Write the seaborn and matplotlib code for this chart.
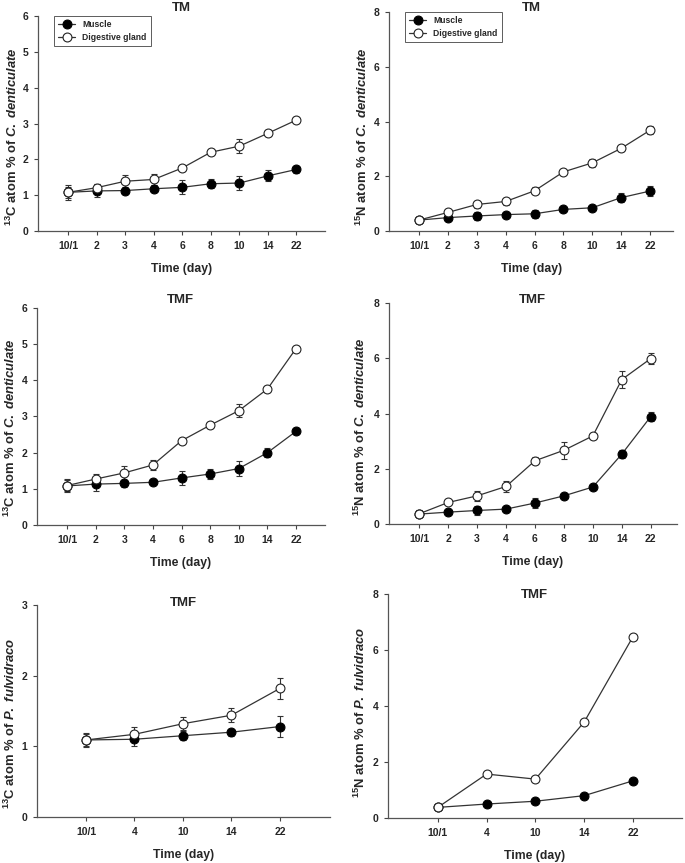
import numpy as np
import pandas as pd
import matplotlib
matplotlib.use("Agg")
import matplotlib.pyplot as plt
import seaborn as sns

# ---------------- data ----------------
days_c = ["10/1", "2", "3", "4", "6", "8", "10", "14", "22"]
days_p = ["10/1", "4", "10", "14", "22"]

# C. denticulate, TM, 13C
tm_c_mus = [1.08, 1.12, 1.13, 1.18, 1.22, 1.32, 1.34, 1.54, 1.72]
tm_c_mus_err = [0.15, 0.18, 0.10, 0.10, 0.20, 0.13, 0.20, 0.15, 0.10]
tm_c_dg = [1.08, 1.21, 1.39, 1.44, 1.76, 2.20, 2.37, 2.73, 3.10]
tm_c_dg_err = [0.20, 0.10, 0.18, 0.15, 0.08, 0.08, 0.20, 0.08, 0.08]

# C. denticulate, TM, 15N
tm_n_mus = [0.40, 0.49, 0.55, 0.60, 0.63, 0.79, 0.85, 1.22, 1.46]
tm_n_mus_err = [0.10, 0.10, 0.15, 0.10, 0.15, 0.08, 0.08, 0.17, 0.17]
tm_n_dg = [0.40, 0.68, 0.97, 1.08, 1.47, 2.16, 2.49, 3.02, 3.68]
tm_n_dg_err = [0.10, 0.08, 0.12, 0.12, 0.13, 0.08, 0.15, 0.08, 0.15]

# C. denticulate, TMF, 13C
tmf_c_mus = [1.08, 1.13, 1.15, 1.18, 1.30, 1.41, 1.56, 2.00, 2.59]
tmf_c_mus_err = [0.15, 0.18, 0.10, 0.08, 0.20, 0.15, 0.20, 0.13, 0.08]
tmf_c_dg = [1.09, 1.27, 1.44, 1.66, 2.33, 2.76, 3.16, 3.76, 4.88]
tmf_c_dg_err = [0.18, 0.15, 0.20, 0.13, 0.08, 0.08, 0.18, 0.08, 0.08]

# C. denticulate, TMF, 15N
tmf_n_mus = [0.36, 0.43, 0.49, 0.54, 0.76, 1.02, 1.34, 2.53, 3.89]
tmf_n_mus_err = [0.10, 0.08, 0.15, 0.08, 0.17, 0.08, 0.08, 0.15, 0.15]
tmf_n_dg = [0.37, 0.78, 1.02, 1.36, 2.29, 2.67, 3.19, 5.23, 5.99]
tmf_n_dg_err = [0.12, 0.10, 0.17, 0.20, 0.12, 0.30, 0.10, 0.30, 0.20]

# P. fulvidraco, TMF, 13C
pf_c_mus = [1.09, 1.10, 1.15, 1.20, 1.28]
pf_c_mus_err = [0.08, 0.09, 0.06, 0.05, 0.15]
pf_c_dg = [1.09, 1.17, 1.32, 1.44, 1.82]
pf_c_dg_err = [0.10, 0.10, 0.09, 0.10, 0.15]

# P. fulvidraco, TMF, 15N
pf_n_mus = [0.38, 0.50, 0.60, 0.80, 1.33]
pf_n_mus_err = [0.0, 0.0, 0.0, 0.0, 0.0]
pf_n_dg = [0.38, 1.57, 1.39, 3.43, 6.48]
pf_n_dg_err = [0.0, 0.0, 0.0, 0.0, 0.0]

# ---------------- style ----------------
sns.set_style("ticks")
plt.rcParams["font.family"] = ["Liberation Sans", "DejaVu Sans"]
plt.rcParams["font.weight"] = "bold"
plt.rcParams["mathtext.fontset"] = "custom"
plt.rcParams["mathtext.rm"] = "Liberation Sans:bold"
plt.rcParams["mathtext.it"] = "Liberation Sans:bold:italic"
plt.rcParams["mathtext.bf"] = "Liberation Sans:bold"

LINE = "#333333"
fig = plt.figure(figsize=(6.85, 8.63), dpi=100)

panels = [
    # rect, cats, mus, mus_err, dg, dg_err, ymax, yticks, title, title_y, ylabel, legend, xlim, ylabel coords
    ([0.0555, 0.7323, 0.419, 0.249], days_c, tm_c_mus, tm_c_mus_err, tm_c_dg, tm_c_dg_err,
     6, [0, 1, 2, 3, 4, 5, 6], "TM", 1.037,
     r"$^{\mathrm{13}}$C atom % of $\mathit{C.\ denticulate}$", True, (-1.05, 9.0), (-0.063, 0.437)),
    ([0.568, 0.7323, 0.4146, 0.2537], days_c, tm_n_mus, tm_n_mus_err, tm_n_dg, tm_n_dg_err,
     8, [0, 2, 4, 6, 8], "TM", 1.018,
     r"$^{\mathrm{15}}$N atom % of $\mathit{C.\ denticulate}$", True, (-1.04, 8.8), (-0.067, 0.43)),
    ([0.054, 0.3917, 0.42, 0.2514], days_c, tmf_c_mus, tmf_c_mus_err, tmf_c_dg, tmf_c_dg_err,
     6, [0, 1, 2, 3, 4, 5, 6], "TMF", 1.037,
     r"$^{\mathrm{13}}$C atom % of $\mathit{C.\ denticulate}$", False, (-1.05, 9.0), (-0.066, 0.447)),
    ([0.568, 0.3928, 0.42, 0.256], days_c, tmf_n_mus, tmf_n_mus_err, tmf_n_dg, tmf_n_dg_err,
     8, [0, 2, 4, 6, 8], "TMF", 1.014,
     r"$^{\mathrm{15}}$N atom % of $\mathit{C.\ denticulate}$", False, (-1.04, 8.9), (-0.073, 0.44)),
    ([0.054, 0.0533, 0.4277, 0.2457], days_p, pf_c_mus, pf_c_mus_err, pf_c_dg, pf_c_dg_err,
     3, [0, 1, 2, 3], "TMF", 1.01,
     r"$^{\mathrm{13}}$C atom % of $\mathit{P.\ fulvidraco}$", False, (-1.01, 5.03), (-0.065, 0.443)),
    ([0.5664, 0.0521, 0.429, 0.2596], days_p, pf_n_mus, pf_n_mus_err, pf_n_dg, pf_n_dg_err,
     8, [0, 2, 4, 6, 8], "TMF", 0.996,
     r"$^{\mathrm{15}}$N atom % of $\mathit{P.\ fulvidraco}$", False, (-1.02, 5.0), (-0.068, 0.47)),
]

for (rect, cats, mus, mus_err, dg, dg_err, ymax, yticks, title, ty,
     ylabel, legend, xlim, ylc) in panels:
    ax = fig.add_axes(rect)
    pos = np.arange(len(cats))
    df = pd.DataFrame({"pos": np.concatenate([pos, pos]),
                       "value": list(mus) + list(dg),
                       "tissue": ["Muscle"] * len(cats) + ["Digestive gland"] * len(cats)})
    # error bars (behind markers)
    ax.errorbar(pos, mus, yerr=mus_err, fmt="none", ecolor=LINE, elinewidth=0.8,
                capsize=2.2, capthick=0.8, zorder=1)
    ax.errorbar(pos, dg, yerr=dg_err, fmt="none", ecolor=LINE, elinewidth=0.8,
                capsize=2.2, capthick=0.8, zorder=1)
    sns.lineplot(data=df[df.tissue == "Muscle"], x="pos", y="value", ax=ax,
                 color=LINE, lw=0.9, marker="o", markersize=6.4,
                 markerfacecolor="black", markeredgecolor="black",
                 markeredgewidth=0.8, label="Muscle", zorder=3)
    sns.lineplot(data=df[df.tissue == "Digestive gland"], x="pos", y="value", ax=ax,
                 color=LINE, lw=0.9, marker="o", markersize=6.4,
                 markerfacecolor="white", markeredgecolor="#222222",
                 markeredgewidth=0.8, label="Digestive gland", zorder=4)
    ax.set_xlim(*xlim)
    ax.set_ylim(0, ymax)
    ax.set_xticks(pos)
    ax.set_xticklabels(cats)
    ax.set_yticks(yticks)
    ax.tick_params(axis="both", labelsize=7.5, length=3, width=0.8, color="#444444",
                   pad=4)
    for lab in ax.get_xticklabels() + ax.get_yticklabels():
        lab.set_fontweight("bold")
    sns.despine(ax=ax)
    for s in ["left", "bottom"]:
        ax.spines[s].set_color("#555555")
        ax.spines[s].set_linewidth(0.9)
    ax.set_xlabel("Time (day)", fontsize=8.8, fontweight="bold", labelpad=9)
    ax.set_ylabel(ylabel, fontsize=9.4, fontweight="bold")
    ax.yaxis.set_label_coords(*ylc)
    ax.text(0.5, ty, title, transform=ax.transAxes, ha="center", va="center",
            fontsize=9.5, fontweight="bold")
    if legend:
        leg = ax.legend(loc="upper left", bbox_to_anchor=(0.055, 1.0), borderaxespad=0,
                        frameon=True, fancybox=False, edgecolor="#333333",
                        prop={"size": 6.2, "weight": "bold"}, handlelength=2.0,
                        borderpad=0.5, labelspacing=0.4)
        leg.get_frame().set_linewidth(0.7)
    else:
        lg = ax.get_legend()
        if lg is not None:
            lg.remove()

fig.savefig("out.png", dpi=100)
